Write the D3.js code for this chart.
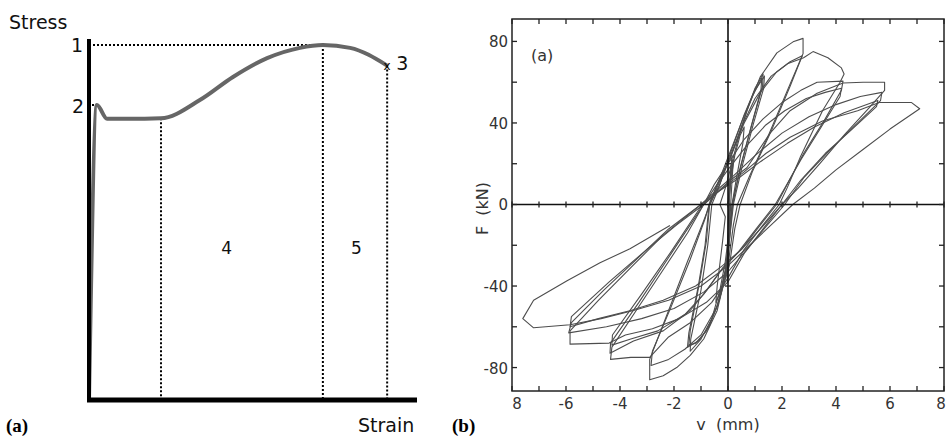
<!DOCTYPE html>
<html>
<head>
<meta charset="utf-8">
<script src="https://cdn.jsdelivr.net/npm/d3@7"></script>
<style>
  body { margin: 0; background: #fff; }
  svg { display: block; }
</style>
</head>
<body>
<script>
"use strict";

// ---- data: panel (a), schematic stress-strain curve (relative units)
const curveStrain = [0, 0.024, 0.055, 0.12, 0.2195, 0.338, 0.439, 0.543, 0.643, 0.713, 0.796, 0.909];
const curveStress = [0, 0.831, 0.792, 0.792, 0.7935, 0.845, 0.910, 0.963, 0.992, 1.0, 0.992, 0.942];
const markStrain = [0.2195, 0.713, 0.909];      // dotted drops
const markStress = [0.7935, 1.0, 0.942];
const yieldStress = 0.831;
const pointLabels = ["1", "2", "3"];
const zoneLabels = ["4", "5"];
const zoneStrain = [0.42, 0.815];

// ---- data: panel (b), cyclic F-v loops
const cycles = [
  [[0,0],[0.05,10],[0.12,20],[0.15,24],[0.1,14],[0.05,2],[0.02,-8],[-0.02,-20],[-0.05,-30],[-0.08,-36],[-0.04,-26],[0,-12],[0.03,0]],
  [[0.03,0],[0.08,10],[0.14,18],[0.2,22],[0.15,12],[0.1,0],[0.06,-12],[0.02,-26],[-0.02,-38],[0.02,-28],[0.05,-14],[0.06,0]],
  [[0.03,0],[0.1,12],[0.25,24],[0.45,34],[0.6,38],[0.55,30],[0.3,12],[0.15,0],[0.08,-14],[-0.05,-30],[-0.25,-42],[-0.45,-48],[-0.4,-40],[-0.2,-18],[-0.1,-6],[-0.3,0]],
  [[-0.3,0],[-0.1,8],[0.1,18],[0.35,31],[0.7,46],[1.0,57],[1.3,64],[1.28,58],[0.9,40],[0.5,20],[0.25,6],[0.15,0],[0.05,-12],[-0.1,-28],[-0.3,-42],[-0.6,-56],[-1.0,-66],[-1.4,-72],[-1.38,-66],[-1.0,-42],[-0.75,-20],[-0.6,0]],
  [[-0.6,0],[-0.35,8],[-0.05,20],[0.25,31],[0.6,44],[0.95,55],[1.35,63],[1.32,57],[0.95,40],[0.55,20],[0.3,6],[0.2,0],[0.1,-12],[-0.05,-30],[-0.3,-46],[-0.7,-60],[-1.1,-67],[-1.5,-70],[-1.45,-63],[-1.1,-40],[-0.85,-20],[-0.7,0]],
  [[-0.7,0],[-0.45,8],[-0.15,18],[0.2,30],[0.55,42],[0.9,53],[1.25,62],[1.22,56],[0.85,38],[0.45,18],[0.25,5],[0.18,0],[0.06,-14],[-0.1,-32],[-0.4,-50],[-0.8,-62],[-1.2,-68],[-1.45,-69],[-1.4,-62],[-1.05,-38],[-0.8,-18],[-0.68,0]],
  [[-0.7,0],[-0.4,10],[0.07,22],[0.33,31.5],[0.7,46],[1.19,62.5],[1.81,74.4],[2.41,79.8],[2.78,81.5],[2.78,74],[2.2,56],[1.5,34],[0.8,14],[0.35,0],[0.2,-10],[0,-30],[-0.4,-52],[-0.9,-66],[-1.4,-74],[-1.9,-80],[-2.4,-84],[-2.9,-86],[-2.9,-76],[-2.2,-52],[-1.5,-28],[-0.9,-8],[-0.67,0]],
  [[-0.67,0],[-0.35,10],[0.1,24],[0.6,40],[1.2,55],[1.8,65],[2.3,70],[2.75,73],[2.3,58],[1.6,36],[0.9,16],[0.45,0],[0.25,-12],[0.05,-30],[-0.4,-50],[-1.0,-64],[-1.6,-71],[-2.2,-76],[-2.85,-79],[-2.8,-72],[-2.1,-50],[-1.4,-27],[-0.85,-7],[-0.7,0]],
  [[-0.67,0],[-0.3,10],[0.1,24],[0.5,38],[1.0,52],[1.6,63],[2.2,69],[2.8,72],[3.15,75],[3.7,72],[4.2,67],[4.3,64],[4.15,60],[3.5,46],[2.67,23],[2.2,8.4],[1.9,0],[1.3,-10],[0.6,-22],[0,-36],[-0.6,-48],[-1.4,-58],[-2.2,-65],[-2.9,-75],[-3.6,-75],[-4.35,-76],[-4.3,-70],[-3.4,-52],[-2.4,-32],[-1.5,-14],[-0.9,0]],
  [[-0.9,0],[-0.5,10],[0,20],[0.6,32],[1.3,42],[2.0,50],[2.7,56],[3.3,60],[4.26,60.5],[4.2,56],[3.6,42],[2.8,25],[2.2,10],[1.8,0],[1.2,-10],[0.5,-22],[-0.19,-31],[-0.78,-42],[-1.4,-52],[-2.4,-62],[-3.5,-67],[-4.37,-73],[-4.35,-68],[-3.3,-48],[-2.2,-26],[-1.4,-10],[-0.9,0]],
  [[-0.9,0],[-0.45,9],[0.05,18],[0.7,29],[1.4,39],[2.1,46],[2.9,52],[3.6,55],[4.2,57],[4.15,53],[3.5,39],[2.7,22],[2.1,8],[1.75,0],[1.1,-11],[0.4,-23],[-0.3,-33],[-0.9,-44],[-1.6,-54],[-2.6,-62],[-3.6,-66],[-4.3,-69],[-4.28,-64],[-3.2,-44],[-2.1,-23],[-1.35,-8],[-0.95,0]],
  [[-0.9,0],[-0.4,6],[0.1,12],[0.7,18],[1.56,35],[2.3,46],[3.3,54.6],[4.26,59.6],[5.0,60],[5.8,60],[5.8,56],[5.2,47],[4.3,34],[3.4,20],[2.6,8],[2.0,0],[1.3,-12],[0.6,-24],[0,-38],[-0.8,-48],[-1.8,-56],[-2.8,-61],[-3.8,-64],[-4.4,-68],[-5.85,-68.5],[-5.85,-62],[-4.8,-47],[-3.6,-31],[-2.4,-15],[-1.0,0]],
  [[-1.0,0],[-0.5,6],[0.2,14],[1.0,24],[2.0,35],[3.0,43],[4.0,49],[4.9,53],[5.7,55],[5.65,51],[4.8,40],[3.8,27],[2.8,13],[2.1,0],[1.4,-11],[0.7,-22],[0,-33],[-0.9,-43],[-2.0,-51],[-3.2,-56],[-4.5,-60],[-5.9,-63],[-5.8,-58],[-4.6,-42],[-3.4,-27],[-2.2,-12],[-1.0,0]],
  [[-1.0,0],[-0.4,6],[0.3,12],[1.2,21],[2.2,30],[3.2,38],[4.3,45],[5.55,51],[5.5,48],[4.6,37],[3.6,25],[2.7,12],[2.0,0],[1.2,-12],[0.5,-22],[-0.2,-30],[-1.2,-40],[-2.4,-47],[-3.6,-52],[-4.8,-56],[-5.85,-60],[-5.8,-55],[-4.4,-38],[-3.0,-22],[-1.9,-10],[-0.9,0]],
  [[-0.9,0],[-0.2,8],[0.6,16],[1.4,25],[2.3,33],[3.5,41],[4.8,46],[5.6,50],[6.8,50],[7.1,47],[6.0,37],[5.0,27],[4.0,17],[3.2,8],[2.4,0],[1.6,-10],[0.8,-20],[0,-30],[-1.0,-40],[-2.2,-47],[-3.5,-52],[-4.7,-56],[-5.85,-59],[-7.2,-60.5],[-7.6,-56],[-7.2,-47],[-5.96,-37.4],[-4.74,-28.6],[-3.63,-21.7],[-2.15,-10.3]]
];
const xTicks = d3.range(-8, 9, 1);
const xLabelVals = [-8, -6, -4, -2, 0, 2, 4, 6, 8];
const xLabels = ["8", "-6", "-4", "-2", "0", "2", "4", "6", "8"];
const yTicks = [-80, -60, -40, -20, 0, 20, 40, 60, 80];
const yLabelVals = [-80, -40, 0, 40, 80];

const W = 947, H = 437;
const svg = d3.select("body").append("svg").attr("width", W).attr("height", H);

// ================= panel (a)
const xa = d3.scaleLinear().domain([0, 1]).range([89, 417]);
const ya = d3.scaleLinear().domain([0, 1]).range([400, 45]);
const ga = svg.append("g");

// dotted guide lines
ga.append("line")
  .attr("x1", xa(0) + 4).attr("x2", xa(markStrain[1]))
  .attr("y1", ya(1)).attr("y2", ya(1))
  .attr("stroke", "#000").attr("stroke-width", 2).attr("stroke-dasharray", "2,2");
ga.selectAll("line.drop").data(markStrain).enter().append("line")
  .attr("class", "drop")
  .attr("x1", d => xa(d)).attr("x2", d => xa(d))
  .attr("y1", (d, i) => ya(markStress[i])).attr("y2", ya(0))
  .attr("stroke", "#000").attr("stroke-width", 2).attr("stroke-dasharray", "2,2");
ga.append("line")
  .attr("x1", xa(0) + 3).attr("x2", xa(0) + 7)
  .attr("y1", ya(yieldStress)).attr("y2", ya(yieldStress))
  .attr("stroke", "#000").attr("stroke-width", 2).attr("stroke-dasharray", "2,2");

// curve
const curvePts = curveStrain.map((e, i) => [e, curveStress[i]]);
ga.append("path")
  .datum(curvePts)
  .attr("d", d3.line().x(d => xa(d[0])).y(d => ya(d[1])).curve(d3.curveMonotoneX))
  .attr("fill", "none").attr("stroke", "#666").attr("stroke-width", 4)
  .attr("stroke-linejoin", "round");

// axes
ga.append("line").attr("x1", xa(0)).attr("x2", xa(0)).attr("y1", 39).attr("y2", 402)
  .attr("stroke", "#000").attr("stroke-width", 4);
ga.append("line").attr("x1", xa(0) - 2).attr("x2", xa(1)).attr("y1", ya(0)).attr("y2", ya(0))
  .attr("stroke", "#000").attr("stroke-width", 5);

// end marker
ga.append("text").attr("x", xa(markStrain[2])).attr("y", ya(markStress[2]) + 4)
  .attr("text-anchor", "middle").attr("font-family", "DejaVu Sans").attr("font-size", 12)
  .text("x");

const sansA = "DejaVu Sans";
ga.append("text").attr("x", 9).attr("y", 29).attr("font-family", sansA).attr("font-size", 19)
  .attr("fill", "#111").text("Stress");
ga.append("text").attr("x", 358).attr("y", 432).attr("font-family", sansA).attr("font-size", 19)
  .attr("fill", "#111").text("Strain");
ga.append("text").attr("x", 83).attr("y", ya(1) + 7).attr("text-anchor", "end")
  .attr("font-family", sansA).attr("font-size", 19).attr("fill", "#111").text(pointLabels[0]);
ga.append("text").attr("x", 84).attr("y", ya(yieldStress) + 8).attr("text-anchor", "end")
  .attr("font-family", sansA).attr("font-size", 19).attr("fill", "#111").text(pointLabels[1]);
ga.append("text").attr("x", xa(markStrain[2]) + 9).attr("y", ya(markStress[2]) + 4)
  .attr("font-family", sansA).attr("font-size", 19).attr("fill", "#111").text(pointLabels[2]);
ga.selectAll("text.zone").data(zoneLabels).enter().append("text")
  .attr("class", "zone")
  .attr("x", (d, i) => xa(zoneStrain[i])).attr("y", ya(0.41))
  .attr("text-anchor", "middle").attr("font-family", sansA).attr("font-size", 17)
  .attr("fill", "#111").text(d => d);

// panel tags
svg.append("text").attr("x", 6).attr("y", 432).attr("font-family", "Liberation Serif")
  .attr("font-weight", "bold").attr("font-size", 19).text("(a)");
svg.append("text").attr("x", 452).attr("y", 432).attr("font-family", "Liberation Serif")
  .attr("font-weight", "bold").attr("font-size", 19).text("(b)");

// ================= panel (b)
const xb = d3.scaleLinear().domain([-8, 8]).range([512, 944]);
const yb = d3.scaleLinear().domain([-91.5, 91]).range([391, 19]);
const gb = svg.append("g");

gb.append("clipPath").attr("id", "clipb").append("rect")
  .attr("x", xb(-8)).attr("y", yb(91)).attr("width", xb(8) - xb(-8)).attr("height", yb(-91.5) - yb(91));

const line = d3.line().x(d => xb(d[0])).y(d => yb(d[1]));
gb.append("g").attr("clip-path", "url(#clipb)")
  .selectAll("path").data(cycles).enter().append("path")
  .attr("d", line)
  .attr("fill", "none").attr("stroke", "#4d4d4d").attr("stroke-width", 1.1)
  .attr("stroke-linejoin", "round");

// frame and zero axes
gb.append("rect").attr("x", xb(-8)).attr("y", yb(91))
  .attr("width", xb(8) - xb(-8)).attr("height", yb(-91.5) - yb(91))
  .attr("fill", "none").attr("stroke", "#222").attr("stroke-width", 1.5);
gb.append("line").attr("x1", xb(-8)).attr("x2", xb(8)).attr("y1", yb(0)).attr("y2", yb(0))
  .attr("stroke", "#111").attr("stroke-width", 1.6);
gb.append("line").attr("x1", xb(0)).attr("x2", xb(0)).attr("y1", yb(91)).attr("y2", yb(-91.5))
  .attr("stroke", "#111").attr("stroke-width", 1.6);

// ticks: top edge, bottom edge, zero line
const tk = 5;
const tickSets = [
  { y: yb(91), a: 0, b: tk },
  { y: yb(-91.5), a: -tk, b: 0 },
  { y: yb(0), a: -3, b: 3 }
];
tickSets.forEach(s => {
  gb.append("g").selectAll("line").data(xTicks).enter().append("line")
    .attr("x1", d => xb(d)).attr("x2", d => xb(d))
    .attr("y1", s.y + s.a).attr("y2", s.y + s.b)
    .attr("stroke", "#222").attr("stroke-width", 1.3);
});
const vTickSets = [
  { x: xb(-8), a: 0, b: tk },
  { x: xb(8), a: -tk, b: 0 },
  { x: xb(0), a: -3, b: 3 }
];
vTickSets.forEach(s => {
  gb.append("g").selectAll("line").data(yTicks).enter().append("line")
    .attr("y1", d => yb(d)).attr("y2", d => yb(d))
    .attr("x1", s.x + s.a).attr("x2", s.x + s.b)
    .attr("stroke", "#222").attr("stroke-width", 1.3);
});

// tick labels
const sansB = "DejaVu Sans";
const lastLab = xLabelVals.length - 1;
gb.append("g").selectAll("text").data(xLabelVals).enter().append("text")
  .attr("x", (d, i) => xb(d) + (i === 0 ? 5 : (i === lastLab ? -3 : 0)))
  .attr("y", 409)
  .attr("text-anchor", "middle").attr("font-family", sansB).attr("font-size", 15)
  .attr("fill", "#333").text((d, i) => xLabels[i]);
gb.append("g").selectAll("text").data(yLabelVals).enter().append("text")
  .attr("x", 508).attr("y", d => yb(d) + 6)
  .attr("text-anchor", "end").attr("font-family", sansB).attr("font-size", 15)
  .attr("fill", "#333").text(d => d);

gb.append("text").attr("x", xb(0)).attr("y", 430).attr("text-anchor", "middle")
  .attr("font-family", sansB).attr("font-size", 16).attr("fill", "#333")
  .attr("xml:space", "preserve").text("v  (mm)");
gb.append("text").attr("transform", "translate(488," + yb(-2) + ") rotate(-90)")
  .attr("text-anchor", "middle").attr("font-family", sansB).attr("font-size", 16).attr("fill", "#333")
  .attr("xml:space", "preserve").text("F  (kN)");
gb.append("text").attr("x", 531).attr("y", 61)
  .attr("font-family", sansB).attr("font-size", 16).attr("fill", "#333").text("(a)");
</script>
</body>
</html>
